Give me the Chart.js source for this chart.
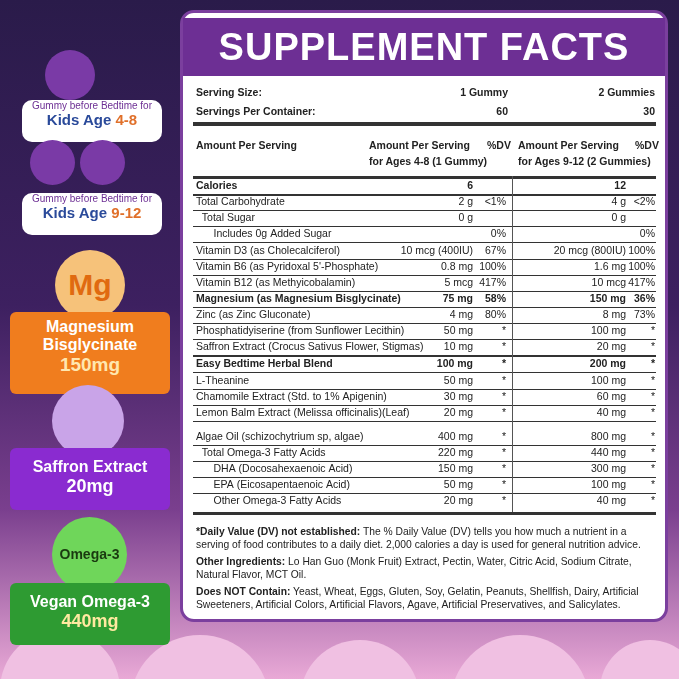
<!DOCTYPE html>
<html><head><meta charset="utf-8">
<script src="https://cdn.jsdelivr.net/npm/chart.js@4/dist/chart.umd.min.js"></script>
<style>
body{margin:0;width:679px;height:679px;overflow:hidden;font-family:"Liberation Sans",Arial,sans-serif;position:relative}
#bg{position:absolute;left:0;top:0}
.panel{position:absolute;left:180px;top:10px;width:488px;height:612px;background:#fff;border:3px solid #7b3f9e;border-radius:14px;box-sizing:border-box}
.head{position:absolute;left:183px;top:18px;width:482px;height:58px;background:#6d2f94;color:#fff;font:900 38px "Liberation Sans",Arial;text-align:center;line-height:58px;letter-spacing:1px}
.t{position:absolute;font-size:10.5px;color:#222;white-space:nowrap}
.b{font-weight:bold}
.r{text-align:right}
.line{position:absolute;left:193px;width:463px;background:#333}
.badge{position:absolute;left:10px;width:160px;border-radius:6px;color:#fff;text-align:center;font-weight:bold}
.circ{position:absolute;border-radius:50%;text-align:center;font-weight:bold}
.kid{position:absolute;left:22px;width:140px;height:42px;background:#fff;border-radius:10px;text-align:center;font-size:10px;color:#6d2f94}
.kid span{font-size:15px;font-weight:bold;color:#2a4a9a}
</style></head><body>
<canvas id="bg" width="679" height="679"></canvas>
<div class="panel"></div>
<div class="head">SUPPLEMENT FACTS</div>
<div id="tbl"></div>
<div class="kid" style="top:100px">Gummy before Bedtime for<br><span>Kids Age <b style="color:#e0702a">4-8</b></span></div>
<div class="kid" style="top:193px">Gummy before Bedtime for<br><span>Kids Age <b style="color:#e0702a">9-12</b></span></div>
<div class="circ" style="left:45px;top:50px;width:50px;height:50px;background:#7a3aa6"></div>
<div class="circ" style="left:30px;top:140px;width:45px;height:45px;background:#7a3aa6"></div>
<div class="circ" style="left:80px;top:140px;width:45px;height:45px;background:#7a3aa6"></div>
<div class="circ" style="left:55px;top:250px;width:70px;height:70px;background:#f6c27a;color:#e06a10;font-size:30px;line-height:70px">Mg</div>
<div class="badge" style="top:312px;height:82px;background:#f07d1e;font-size:16px;padding-top:6px;box-sizing:border-box">Magnesium<br>Bisglycinate<br><span style="font-size:19px;color:#ffe7b0">150mg</span></div>
<div class="circ" style="left:52px;top:385px;width:72px;height:72px;background:#c9a4e8"></div>
<div class="badge" style="top:448px;height:62px;background:#8a2bd0;font-size:16px;padding-top:10px;box-sizing:border-box">Saffron Extract<br><span style="font-size:18px">20mg</span></div>
<div class="circ" style="left:52px;top:517px;width:75px;height:75px;background:#6fd65a;color:#1a3a10;font-size:14px;line-height:75px">Omega-3</div>
<div class="badge" style="top:583px;height:62px;background:#2e9b32;font-size:16px;padding-top:10px;box-sizing:border-box">Vegan Omega-3<br><span style="font-size:18px;color:#ffe9a0">440mg</span></div>
<script>
const nutrients=["Calories","Total Carbohydrate","  Total Sugar","      Includes 0g Added Sugar","Vitamin D3 (as Cholecalciferol)","Vitamin B6 (as Pyridoxal 5'-Phosphate)","Vitamin B12 (as Methyicobalamin)","Magnesium (as Magnesium Bisglycinate)","Zinc (as Zinc Gluconate)","Phosphatidyiserine (from Sunflower Lecithin)","Saffron Extract (Crocus Sativus Flower, Stigmas)","Easy Bedtime Herbal Blend","L-Theanine","Chamomile Extract (Std. to 1% Apigenin)","Lemon Balm Extract (Melissa officinalis)(Leaf)","Algae Oil (schizochytrium sp, algae)","  Total Omega-3 Fatty Acids","      DHA (Docosahexaenoic Acid)","      EPA (Eicosapentaenoic Acid)","      Other Omega-3 Fatty Acids"];
const amt1=["6","2 g","0 g","","10 mcg (400IU)","0.8 mg","5 mcg","75 mg","4 mg","50 mg","10 mg","100 mg","50 mg","30 mg","20 mg","400 mg","220 mg","150 mg","50 mg","20 mg"];
const dv1=["","<1%","","0%","67%","100%","417%","58%","80%","*","*","*","*","*","*","*","*","*","*","*"];
const amt2=["12","4 g","0 g","","20 mcg (800IU)","1.6 mg","10 mcg","150 mg","8 mg","100 mg","20 mg","200 mg","100 mg","60 mg","40 mg","800 mg","440 mg","300 mg","100 mg","40 mg"];
const dv2=["","<2%","","0%","100%","100%","417%","36%","73%","*","*","*","*","*","*","*","*","*","*","*"];
const rowY=[186,202,218,234,251,267,283,299,315,331,347,364,381,397,413,437,453,469,485,501];
const bold=[0,7,11];
let h='';
function t(x,y,s,cls,w){h+=`<div class="t ${cls||''}" style="left:${x}px;top:${y-7}px;${w?'width:'+w+'px':''}">${s}</div>`;}
function ln(y,th){h+=`<div class="line" style="top:${y}px;height:${th}px"></div>`;}
h+=`<div style="font-size:12px">`;
t(196,93,"Serving Size:","b");t(196,112,"Servings Per Container:","b");
t(400,93,"1 Gummy","b r",108);t(400,112,"60","b r",108);
t(550,93,"2 Gummies","b r",105);t(550,112,"30","b r",105);
h+=`</div>`;
ln(122,4);
t(196,146,"Amount Per Serving","b");t(369,146,"Amount Per Serving","b");t(369,162,"for Ages 4-8 (1 Gummy)","b");t(487,146,"%DV","b");
t(518,146,"Amount Per Serving","b");t(518,162,"for Ages 9-12 (2 Gummies)","b");t(635,146,"%DV","b");
ln(176,3);
nutrients.forEach((n,i)=>{const y=rowY[i];const c=bold.includes(i)?'b':'';
t(196,y,n.replace(/ /g,'&nbsp;'),c);t(380,y,amt1[i],c+' r',93);t(475,y,dv1[i],c+' r',31);
t(530,y,amt2[i],c+' r',96);t(620,y,dv2[i],c+' r',35);
if(i<nutrients.length-1)ln(y+8,i==0||i==10?2:0.6);});
h+=`<div style="position:absolute;left:512px;top:176px;width:1px;height:336px;background:#555"></div>`;
ln(512,3);
h+=`<div class="t" style="left:196px;top:525px;width:460px;white-space:normal;font-size:10.3px;line-height:13px"><b>*Daily Value (DV) not established:</b> The % Daily Value (DV) tells you how much a nutrient in a serving of food contributes to a daily diet. 2,000 calories a day is used for general nutrition advice.<div style="height:4px"></div><b>Other Ingredients:</b> Lo Han Guo (Monk Fruit) Extract, Pectin, Water, Citric Acid, Sodium Citrate, Natural Flavor, MCT Oil.<div style="height:4px"></div><b>Does NOT Contain:</b> Yeast, Wheat, Eggs, Gluten, Soy, Gelatin, Peanuts, Shellfish, Dairy, Artificial Sweeteners, Artificial Colors, Artificial Flavors, Agave, Artificial Preservatives, and Salicylates.</div>`;
document.getElementById('tbl').innerHTML=h;
const bgPlugin={id:'bg',beforeDraw(c){const x=c.ctx;const g=x.createLinearGradient(0,0,0,679);
g.addColorStop(0,'#2a1b4a');g.addColorStop(0.45,'#3d2060');g.addColorStop(0.75,'#7a3f8e');g.addColorStop(1,'#e9a9d6');
x.fillStyle=g;x.fillRect(0,0,679,679);
x.fillStyle='#f0c0e2';[[60,690,60],[200,705,70],[360,700,60],[520,705,70],[650,690,50]].forEach(([a,b,r])=>{x.beginPath();x.arc(a,b,r,0,7);x.fill();});}};
new Chart(document.getElementById('bg'),{type:'bar',data:{labels:[''],datasets:[{data:[0]}]},
options:{responsive:false,animation:false,events:[],plugins:{legend:{display:false},tooltip:{enabled:false}},scales:{x:{display:false},y:{display:false}}},plugins:[bgPlugin]});
</script></body></html>
